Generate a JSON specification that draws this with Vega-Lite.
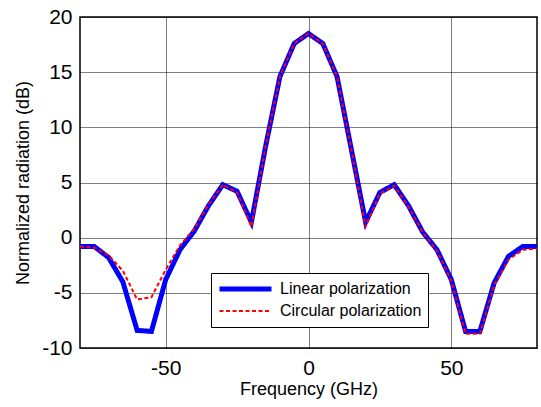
{
  "$schema": "https://vega.github.io/schema/vega-lite/v6.json",
  "width": 457,
  "height": 331,
  "autosize": {"type": "none"},
  "padding": {"left": 80, "top": 17, "right": 4, "bottom": 59},
  "background": "white",
  "config": {
    "font": "Liberation Sans",
    "view": {"stroke": "black", "strokeWidth": 1.5},
    "axis": {
      "domain": false,
      "ticks": false,
      "grid": true,
      "gridColor": "black",
      "gridOpacity": 1,
      "gridDash": [1, 1],
      "gridWidth": 1,
      "labelFont": "Liberation Sans",
      "labelFontSize": 21,
      "labelColor": "black",
      "labelExpr": "replace(datum.label, '−', '-')",
      "titleFont": "Liberation Sans",
      "titleFontSize": 18,
      "titleFontWeight": "normal",
      "titleColor": "black"
    },
    "legend": {
      "orient": "none",
      "legendX": 131,
      "legendY": 256,
      "strokeColor": "black",
      "fillColor": "white",
      "padding": 6,
      "rowPadding": 2,
      "cornerRadius": 0,
      "labelFont": "Liberation Sans",
      "labelFontSize": 16,
      "labelColor": "black",
      "labelOffset": 6,
      "symbolType": "stroke",
      "symbolSize": 2704,
      "clipHeight": 20,
      "title": null
    }
  },
  "data": {
    "values": [
      {"f": -80, "v": -0.8, "s": "Linear polarization"},
      {"f": -75, "v": -0.8, "s": "Linear polarization"},
      {"f": -70, "v": -1.8, "s": "Linear polarization"},
      {"f": -65, "v": -4.0, "s": "Linear polarization"},
      {"f": -60, "v": -8.4, "s": "Linear polarization"},
      {"f": -55, "v": -8.5, "s": "Linear polarization"},
      {"f": -50, "v": -3.8, "s": "Linear polarization"},
      {"f": -45, "v": -1.1, "s": "Linear polarization"},
      {"f": -40, "v": 0.6, "s": "Linear polarization"},
      {"f": -35, "v": 2.9, "s": "Linear polarization"},
      {"f": -30, "v": 4.8, "s": "Linear polarization"},
      {"f": -25, "v": 4.2, "s": "Linear polarization"},
      {"f": -20, "v": 1.4, "s": "Linear polarization"},
      {"f": -15, "v": 8.3, "s": "Linear polarization"},
      {"f": -10, "v": 14.6, "s": "Linear polarization"},
      {"f": -5, "v": 17.6, "s": "Linear polarization"},
      {"f": 0, "v": 18.5, "s": "Linear polarization"},
      {"f": 5, "v": 17.6, "s": "Linear polarization"},
      {"f": 10, "v": 14.6, "s": "Linear polarization"},
      {"f": 15, "v": 8.0, "s": "Linear polarization"},
      {"f": 20, "v": 1.4, "s": "Linear polarization"},
      {"f": 25, "v": 4.1, "s": "Linear polarization"},
      {"f": 30, "v": 4.8, "s": "Linear polarization"},
      {"f": 35, "v": 2.9, "s": "Linear polarization"},
      {"f": 40, "v": 0.5, "s": "Linear polarization"},
      {"f": 45, "v": -1.1, "s": "Linear polarization"},
      {"f": 50, "v": -3.8, "s": "Linear polarization"},
      {"f": 55, "v": -8.5, "s": "Linear polarization"},
      {"f": 60, "v": -8.5, "s": "Linear polarization"},
      {"f": 65, "v": -4.1, "s": "Linear polarization"},
      {"f": 70, "v": -1.7, "s": "Linear polarization"},
      {"f": 75, "v": -0.8, "s": "Linear polarization"},
      {"f": 80, "v": -0.8, "s": "Linear polarization"},
      {"f": -80, "v": -0.8, "s": "Circular polarization"},
      {"f": -75, "v": -0.9, "s": "Circular polarization"},
      {"f": -70, "v": -1.6, "s": "Circular polarization"},
      {"f": -65, "v": -3.0, "s": "Circular polarization"},
      {"f": -60, "v": -5.6, "s": "Circular polarization"},
      {"f": -55, "v": -5.4, "s": "Circular polarization"},
      {"f": -50, "v": -2.9, "s": "Circular polarization"},
      {"f": -45, "v": -0.7, "s": "Circular polarization"},
      {"f": -40, "v": 0.8, "s": "Circular polarization"},
      {"f": -35, "v": 3.0, "s": "Circular polarization"},
      {"f": -30, "v": 4.8, "s": "Circular polarization"},
      {"f": -25, "v": 4.1, "s": "Circular polarization"},
      {"f": -20, "v": 1.0, "s": "Circular polarization"},
      {"f": -15, "v": 8.3, "s": "Circular polarization"},
      {"f": -10, "v": 14.6, "s": "Circular polarization"},
      {"f": -5, "v": 17.6, "s": "Circular polarization"},
      {"f": 0, "v": 18.5, "s": "Circular polarization"},
      {"f": 5, "v": 17.6, "s": "Circular polarization"},
      {"f": 10, "v": 14.6, "s": "Circular polarization"},
      {"f": 15, "v": 8.0, "s": "Circular polarization"},
      {"f": 20, "v": 1.0, "s": "Circular polarization"},
      {"f": 25, "v": 4.0, "s": "Circular polarization"},
      {"f": 30, "v": 4.7, "s": "Circular polarization"},
      {"f": 35, "v": 2.8, "s": "Circular polarization"},
      {"f": 40, "v": 0.5, "s": "Circular polarization"},
      {"f": 45, "v": -1.2, "s": "Circular polarization"},
      {"f": 50, "v": -3.9, "s": "Circular polarization"},
      {"f": 55, "v": -8.7, "s": "Circular polarization"},
      {"f": 60, "v": -8.7, "s": "Circular polarization"},
      {"f": 65, "v": -4.3, "s": "Circular polarization"},
      {"f": 70, "v": -2.0, "s": "Circular polarization"},
      {"f": 75, "v": -1.1, "s": "Circular polarization"},
      {"f": 80, "v": -1.0, "s": "Circular polarization"}
    ]
  },
  "mark": {"type": "line", "clip": true},
  "encoding": {
    "x": {
      "field": "f",
      "type": "quantitative",
      "title": "Frequency (GHz)",
      "scale": {"domain": [-80, 80], "nice": false, "zero": false},
      "axis": {"values": [-50, 0, 50], "labelPadding": 9, "titlePadding": 2}
    },
    "y": {
      "field": "v",
      "type": "quantitative",
      "title": "Normalized radiation (dB)",
      "scale": {"domain": [-10, 20], "nice": false, "zero": false},
      "axis": {"values": [-10, -5, 0, 5, 10, 15, 20], "labelPadding": 8, "titlePadding": 9}
    },
    "color": {
      "field": "s",
      "type": "nominal",
      "scale": {"domain": ["Linear polarization", "Circular polarization"], "range": ["#0000ff", "#ff0000"]}
    },
    "strokeDash": {
      "field": "s",
      "type": "nominal",
      "scale": {"domain": ["Linear polarization", "Circular polarization"], "range": [[1, 0], [4, 2.5]]}
    },
    "strokeWidth": {
      "field": "s",
      "type": "nominal",
      "scale": {"domain": ["Linear polarization", "Circular polarization"], "range": [5, 2]}
    }
  }
}
